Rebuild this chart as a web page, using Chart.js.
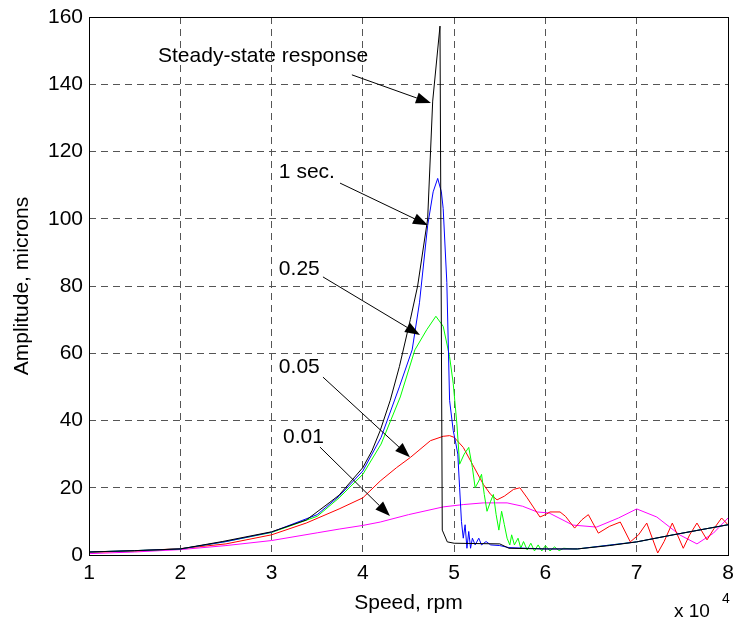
<!DOCTYPE html>
<html>
<head>
<meta charset="utf-8">
<script src="https://cdn.jsdelivr.net/npm/chart.js@4"></script>
<style>
  html, body { margin: 0; padding: 0; background: #fff; }
  #wrap { width: 735px; height: 625px; }
</style>
</head>
<body>
<div id="wrap"><canvas id="amp" width="735" height="625"></canvas></div>
<script>
// speed in units of 1e4 rpm, amplitude in microns
const xTicks = [1, 2, 3, 4, 5, 6, 7, 8];
const yTicks = [0, 20, 40, 60, 80, 100, 120, 140, 160];

const steadySpeed = [1, 1.5, 2, 2.46, 3, 3.38, 3.63, 3.74, 4.0, 4.1, 4.19, 4.3, 4.4, 4.52, 4.6, 4.71, 4.765, 4.845, 4.87, 4.925, 5.0, 5.5, 5.6, 6.0, 6.35, 6.7, 7.0, 7.4, 7.7, 8.0];
const steadyAmp = [0.9, 1.3, 1.8, 4, 6.9, 10.4, 15.5, 17.8, 26, 31, 37, 46, 56, 70, 80, 100, 135, 157.3, 7.4, 3.9, 3.5, 3.3, 2, 1.8, 1.8, 2.8, 3.9, 6, 7.5, 9];

const sec1Speed = [1, 1.5, 2, 2.5, 3, 3.5, 3.74, 4.0, 4.2, 4.4, 4.54, 4.62, 4.71, 4.77, 4.82, 4.86, 4.88, 4.92, 4.95, 4.99, 5.02, 5.04, 5.06, 5.08, 5.1, 5.12, 5.14, 5.16, 5.18, 5.2, 5.23, 5.27, 5.3, 5.35, 5.4, 5.5, 5.6, 6.0, 6.35, 7.0, 7.4, 8.0];
const sec1Amp = [0.9, 1.3, 1.8, 4, 6.8, 12, 17.5, 25, 35, 50, 61, 75, 98, 108, 112, 108, 103, 81, 46, 37, 33, 30, 20, 10, 5, 9, 2, 7, 2, 5, 3, 5, 3, 4, 3, 2.8, 2.2, 1.8, 1.8, 3.9, 6, 9];

const sec025Speed = [1, 1.5, 2, 2.5, 3, 3.5, 3.74, 4.0, 4.2, 4.41, 4.57, 4.7, 4.8, 4.88, 4.95, 4.99, 5.03, 5.06, 5.11, 5.16, 5.2, 5.23, 5.27, 5.3, 5.33, 5.36, 5.4, 5.43, 5.46, 5.49, 5.52, 5.55, 5.58, 5.61, 5.63, 5.66, 5.7, 5.73, 5.76, 5.8, 5.84, 5.88, 5.92, 5.96, 6.0, 6.05, 6.1, 6.15, 6.2, 6.3, 6.35, 7.0, 7.4, 8.0];
const sec025Amp = [0.9, 1.3, 1.8, 4, 6.7, 11.5, 17, 24, 33, 47, 61, 67, 71, 68, 59, 51, 39, 27, 30, 32, 26, 20, 22, 24, 18, 13, 16, 18, 12, 7.4, 13, 9, 5, 3, 6, 3, 5, 2, 4, 1.5, 3.5, 1.2, 3, 1.2, 2.8, 1.2, 2.4, 1.3, 2, 1.8, 1.8, 3.9, 6, 9];

const sec005Speed = [1, 1.5, 2, 2.5, 3, 3.38, 3.74, 4.0, 4.19, 4.37, 4.52, 4.74, 4.88, 4.95, 5.0, 5.1, 5.2, 5.32, 5.4, 5.47, 5.55, 5.65, 5.72, 5.8, 5.94, 6.0, 6.05, 6.16, 6.22, 6.32, 6.4, 6.47, 6.58, 6.7, 6.82, 6.93, 7.02, 7.11, 7.23, 7.3, 7.39, 7.51, 7.58, 7.66, 7.77, 7.85, 7.93, 8.0];
const sec005Amp = [0.8, 1.2, 1.9, 3.3, 6, 9.5, 13.7, 17, 22, 26, 29, 34, 35.3, 35.5, 35, 32, 27, 21, 18, 16.4, 17.5, 19.5, 20, 17, 11.3, 12, 12.8, 12.8, 11.5, 8, 10.5, 12, 6.5, 8.5, 9.8, 3.9, 6, 9.5, 0.6, 4, 9.5, 2, 6, 9.5, 4.5, 8, 11, 9];

const sec001Speed = [1, 1.5, 2, 2.5, 3, 3.5, 3.74, 4.0, 4.19, 4.5, 4.88, 5.1, 5.32, 5.58, 5.75, 5.91, 6.04, 6.3, 6.56, 6.8, 7.0, 7.22, 7.47, 7.66, 7.84, 8.0];
const sec001Amp = [0.4, 0.9, 1.6, 2.8, 4.3, 6.6, 7.7, 8.8, 9.8, 12, 14.3, 15, 15.5, 15.5, 14.5, 12.8, 12.5, 8.9, 8.3, 11, 13.7, 11.3, 6, 3.3, 6.5, 11];

const pts = (xs, ys) => xs.map((x, i) => ({ x: x, y: ys[i] }));

Chart.defaults.font.family = '"Liberation Sans", Arial, Helvetica, sans-serif';
Chart.defaults.color = '#000';

// text + arrow callouts, placed in data units
const callouts = [
  { text: 'Steady-state response', at: [1.756, 146.6], from: [3.88, 142.8], to: [4.746, 134.4] },
  { text: '1 sec.', at: [3.08, 112.1], from: [3.75, 110.6], to: [4.713, 98.1] },
  { text: '0.25', at: [3.08, 83.3], from: [3.563, 82.7], to: [4.626, 65.4] },
  { text: '0.05', at: [3.08, 54.1], from: [3.563, 52.9], to: [4.516, 29.1] },
  { text: '0.01', at: [3.125, 33.3], from: [3.53, 32.1], to: [4.297, 11.6] }
];

const extras = {
  id: 'extras',
  afterDraw(chart) {
    const { ctx, chartArea: a, scales: { x, y } } = chart;
    ctx.save();
    // axes box
    ctx.strokeStyle = '#000';
    ctx.lineWidth = 1;
    ctx.strokeRect(Math.round(a.left) + 0.5, Math.round(a.top) + 0.5, Math.round(a.right - a.left), Math.round(a.bottom - a.top));

    ctx.fillStyle = '#000';
    ctx.font = '21px "Liberation Sans", Arial, sans-serif';
    ctx.textBaseline = 'alphabetic';
    ctx.textAlign = 'left';
    callouts.forEach(c => {
      ctx.fillText(c.text, x.getPixelForValue(c.at[0]), y.getPixelForValue(c.at[1]));
      const x1 = x.getPixelForValue(c.from[0]), y1 = y.getPixelForValue(c.from[1]);
      const x2 = x.getPixelForValue(c.to[0]), y2 = y.getPixelForValue(c.to[1]);
      const ang = Math.atan2(y2 - y1, x2 - x1);
      const len = 15, half = 5.5;
      const bx = x2 - len * Math.cos(ang), by = y2 - len * Math.sin(ang);
      ctx.beginPath();
      ctx.moveTo(x1, y1);
      ctx.lineTo(bx, by);
      ctx.stroke();
      ctx.beginPath();
      ctx.moveTo(x2, y2);
      ctx.lineTo(bx + half * Math.sin(ang), by - half * Math.cos(ang));
      ctx.lineTo(bx - half * Math.sin(ang), by + half * Math.cos(ang));
      ctx.closePath();
      ctx.fill();
    });

    // exponent label under the x axis
    ctx.font = '19px "Liberation Sans", Arial, sans-serif';
    ctx.fillText('x 10', 674, 617);
    ctx.font = '14px "Liberation Sans", Arial, sans-serif';
    ctx.fillText('4', 722, 603);
    ctx.restore();
  }
};

const line = (label, xs, ys, color) => ({
  label: label,
  data: pts(xs, ys),
  borderColor: color,
  backgroundColor: color,
  borderWidth: 1,
  pointRadius: 0,
  tension: 0,
  fill: false
});

new Chart(document.getElementById('amp'), {
  type: 'line',
  data: {
    datasets: [
      line('Steady-state response', steadySpeed, steadyAmp, '#000000'),
      line('1 sec.', sec1Speed, sec1Amp, '#0000ff'),
      line('0.25', sec025Speed, sec025Amp, '#00ff00'),
      line('0.05', sec005Speed, sec005Amp, '#ff0000'),
      line('0.01', sec001Speed, sec001Amp, '#ff00ff')
    ]
  },
  options: {
    responsive: false,
    animation: false,
    layout: { padding: { top: 17, right: 7, left: 0, bottom: 0 } },
    plugins: {
      legend: { display: false },
      tooltip: { enabled: false }
    },
    scales: {
      x: {
        type: 'linear',
        min: 1,
        max: 8,
        afterBuildTicks: s => { s.ticks = xTicks.map(v => ({ value: v })); },
        afterFit: s => { s.height = 70; s.paddingLeft = 0; s.paddingRight = 0; },
        ticks: { font: { size: 21 }, padding: 6, maxRotation: 0 },
        grid: { color: '#555', drawTicks: false },
        border: { display: false, dash: [7, 5] },
        title: { display: true, text: 'Speed, rpm', font: { size: 21 }, padding: { top: 0, bottom: 9 } }
      },
      y: {
        type: 'linear',
        min: 0,
        max: 160,
        afterBuildTicks: s => { s.ticks = yTicks.map(v => ({ value: v })); },
        afterFit: s => { s.width = 89; s.paddingTop = 0; s.paddingBottom = 0; },
        ticks: { font: { size: 21 }, padding: 6 },
        grid: { color: '#555', drawTicks: false },
        border: { display: false, dash: [7, 5] },
        title: { display: true, text: 'Amplitude, microns', font: { size: 21 }, padding: { top: 10, bottom: 0 } }
      }
    }
  },
  plugins: [extras]
});
</script>
</body>
</html>
